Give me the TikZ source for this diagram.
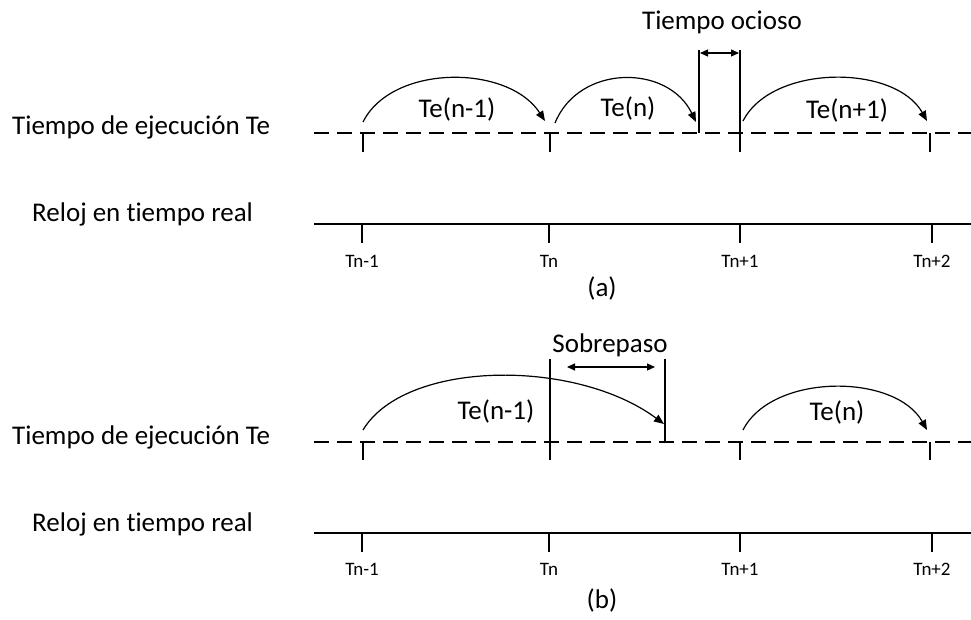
\documentclass[tikz,border=0pt]{standalone}
\usepackage{fontspec}
\setmainfont[Ligatures=NoCommon]{Carlito}
\usetikzlibrary{arrows.meta}
\tikzset{
  big/.style={font=\fontsize{27}{32}\selectfont, inner sep=0pt, anchor=base},
  small/.style={font=\fontsize{19}{22}\selectfont, inner sep=0pt, anchor=base},
  clockline/.style={line width=1.3pt},
  dashline/.style={line width=1.1pt, dash pattern=on 15pt off 8pt},
  tickline/.style={line width=1.1pt},
  arcarrow/.style={line width=1.2pt, -{Triangle[length=10pt,width=8pt]}},
  dblarrow/.style={line width=1.2pt, {Triangle[length=8pt,width=7pt]}-{Triangle[length=8pt,width=7pt]}},
}
\begin{document}
\begin{tikzpicture}[x=1pt,y=-1pt]
\useasboundingbox (0,0) rectangle (971,620);
% ================= panel (a) =================
\node[big, anchor=base west] (la1) at (12,135) {Tiempo de ejecución Te};
\node[big, anchor=base west] (lr1) at (32,222) {Reloj en tiempo real};
\coordinate (da0) at (314,133); \coordinate (da9) at (971,133);
\draw[dashline] (da0) -- (da9);
\coordinate (ta1) at (363,133); \coordinate (ta1b) at (363,152);
\coordinate (ta2) at (550,133); \coordinate (ta2b) at (550,152);
\coordinate (ta4) at (930,133); \coordinate (ta4b) at (930,152);
\draw[tickline] (ta1) -- (ta1b) (ta2) -- (ta2b) (ta4) -- (ta4b);
\coordinate (oc1t) at (699,50); \coordinate (oc1b) at (699,133);
\coordinate (oc2t) at (740,50); \coordinate (oc2b) at (740,152);
\draw[tickline] (oc1t) -- (oc1b);
\draw[tickline] (oc2t) -- (oc2b);
\coordinate (oca) at (700,53); \coordinate (ocb) at (739,53);
\draw[dblarrow] (oca) -- (ocb);
\node[big] (ocioso) at (722,30) {Tiempo ocioso};
% arcs
\coordinate (a1s) at (363,122); \coordinate (a1e) at (545,121);
\draw[arcarrow] (a1s) .. controls (392,64) and (508,64) .. (a1e);
\node[big] (te1) at (457,118) {Te(n-1)};
\coordinate (a2s) at (555,123); \coordinate (a2e) at (696,122);
\draw[arcarrow] (a2s) .. controls (579,64) and (668,64) .. (a2e);
\node[big] (te2) at (628,117) {Te(n)};
\coordinate (a3s) at (743,121); \coordinate (a3e) at (927,121);
\draw[arcarrow] (a3s) .. controls (772,64) and (895,64) .. (a3e);
\node[big] (te3) at (847,119) {Te(n+1)};
% clock
\coordinate (ca0) at (314,224); \coordinate (ca9) at (971,224);
\draw[clockline] (ca0) -- (ca9);
\foreach \x/\n/\t in {362/1/Tn-1, 549/2/Tn, 740/3/Tn+1, 932/4/Tn+2}{
  \coordinate (cta\n) at (\x,224); \coordinate (ctab\n) at (\x,243);
  \draw[tickline] (cta\n) -- (ctab\n);
  \node[small] (tla\n) at (\x,267) {\t};
}
\node[big] (capa) at (602,296) {(a)};
% ================= panel (b) =================
\node[big, anchor=base west] (la2) at (12,444) {Tiempo de ejecución Te};
\node[big, anchor=base west] (lr2) at (32,531) {Reloj en tiempo real};
\coordinate (db0) at (314,442); \coordinate (db9) at (971,442);
\draw[dashline] (db0) -- (db9);
\coordinate (tb1) at (363,442); \coordinate (tb1b) at (363,460);
\coordinate (tb3) at (740,442); \coordinate (tb3b) at (740,460);
\coordinate (tb4) at (930,442); \coordinate (tb4b) at (930,460);
\draw[tickline] (tb1) -- (tb1b) (tb3) -- (tb3b) (tb4) -- (tb4b);
\coordinate (sb1t) at (550,359); \coordinate (sb1b) at (550,460);
\coordinate (sb2t) at (665,359); \coordinate (sb2b) at (665,442);
\draw[tickline] (sb1t) -- (sb1b);
\draw[tickline] (sb2t) -- (sb2b);
\coordinate (sba) at (567,367); \coordinate (sbb) at (655,367);
\draw[dblarrow] (sba) -- (sbb);
\node[big] (sobre) at (610,352) {Sobrepaso};
\coordinate (b1s) at (363,430); \coordinate (b1e) at (664,424);
\draw[arcarrow] (b1s) .. controls (405,360) and (575,358) .. (b1e);
\node[big] (tb1l) at (496,419) {Te(n-1)};
\coordinate (b2s) at (743,430); \coordinate (b2e) at (927,430);
\draw[arcarrow] (b2s) .. controls (772,373) and (895,373) .. (b2e);
\node[big] (tb2l) at (837,420) {Te(n)};
\coordinate (cb0) at (314,533); \coordinate (cb9) at (971,533);
\draw[clockline] (cb0) -- (cb9);
\foreach \x/\n/\t in {362/1/Tn-1, 549/2/Tn, 740/3/Tn+1, 932/4/Tn+2}{
  \coordinate (ctb\n) at (\x,533); \coordinate (ctbb\n) at (\x,552);
  \draw[tickline] (ctb\n) -- (ctbb\n);
  \node[small] (tlb\n) at (\x,575) {\t};
}
\node[big] (capb) at (602,608) {(b)};
\end{tikzpicture}
\end{document}
